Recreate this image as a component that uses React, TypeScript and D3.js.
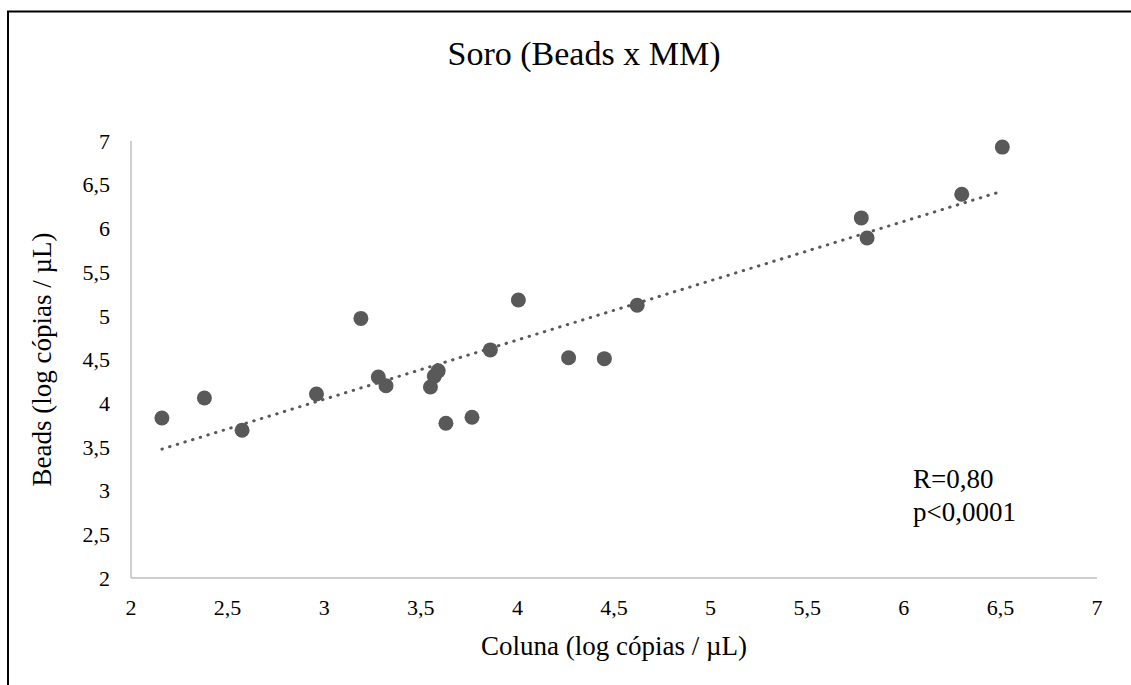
import React from "react";
import * as d3 from "d3";

// Paired measurements: Coluna (x) vs Beads (y), log copies / µL
const colunaLog = [
  2.16, 2.38, 2.575, 2.96, 3.19, 3.28, 3.32, 3.55, 3.57, 3.59, 3.63, 3.765,
  3.86, 4.005, 4.265, 4.45, 4.62, 5.78, 5.81, 6.3, 6.51,
];
const beadsLog = [
  3.83, 4.06, 3.69, 4.105, 4.97, 4.3, 4.2, 4.185, 4.31, 4.37, 3.77, 3.84,
  4.61, 5.18, 4.52, 4.51, 5.12, 6.12, 5.89, 6.39, 6.93,
];
const xTicks = [2, 2.5, 3, 3.5, 4, 4.5, 5, 5.5, 6, 6.5, 7];
const yTicks = [2, 2.5, 3, 3.5, 4, 4.5, 5, 5.5, 6, 6.5, 7];
const statLines = ["R=0,80", "p<0,0001"];

const W = 1131;
const H = 685;
const FONT = "'Liberation Serif', 'Times New Roman', serif";
const MARK = "#595959";
const AXIS = "#bfbfbf";

const fmt = (v: number) => String(v).replace(".", ",");

export default function App() {
  const x = d3.scaleLinear().domain([2, 7]).range([131, 1097]);
  const y = d3.scaleLinear().domain([2, 7]).range([578, 141]);

  // least-squares trend line over the x range of the data
  const mx = d3.mean(colunaLog) as number;
  const my = d3.mean(beadsLog) as number;
  let sxy = 0;
  let sxx = 0;
  colunaLog.forEach((xv, i) => {
    sxy += (xv - mx) * (beadsLog[i] - my);
    sxx += (xv - mx) * (xv - mx);
  });
  const slope = sxy / sxx;
  const icpt = my - slope * mx;
  const [x0, x1] = d3.extent(colunaLog) as [number, number];
  const trend = d3
    .line<number>()
    .x((d) => x(d))
    .y((d) => y(icpt + slope * d))([x0, x1]);

  return (
    <svg
      width={W}
      height={H}
      style={{ position: "absolute", left: 0, top: 0, background: "#fff" }}
      fontFamily={FONT}
    >
      <rect x={0} y={0} width={W} height={H} fill="#fff" />
      <rect
        x={8}
        y={11.5}
        width={W + 20}
        height={H + 20}
        fill="none"
        stroke="#000"
        strokeWidth={2}
      />
      <text x={584} y={65} textAnchor="middle" fontSize={34} fontFamily={FONT} fill="#000">
        Soro (Beads x MM)
      </text>

      {/* axes */}
      <line x1={x(2)} x2={x(2)} y1={y(7)} y2={y(2)} stroke={AXIS} strokeWidth={1.5} />
      <line x1={x(2)} x2={x(7)} y1={y(2)} y2={y(2)} stroke={AXIS} strokeWidth={1.5} />

      {yTicks.map((t) => (
        <text
          key={"y" + t}
          x={110}
          y={y(t)}
          dy="0.35em"
          textAnchor="end"
          fontSize={22}
          fontFamily={FONT}
          fill="#000"
        >
          {fmt(t)}
        </text>
      ))}
      {xTicks.map((t) => (
        <text
          key={"x" + t}
          x={x(t)}
          y={615}
          textAnchor="middle"
          fontSize={22}
          fontFamily={FONT}
          fill="#000"
        >
          {fmt(t)}
        </text>
      ))}

      <text
        transform={`translate(51, ${(y(2) + y(7)) / 2}) rotate(-90)`}
        textAnchor="middle"
        fontSize={27}
        fontFamily={FONT}
        fill="#000"
      >
        Beads (log cópias / µL)
      </text>
      <text
        x={(x(2) + x(7)) / 2}
        y={655}
        textAnchor="middle"
        fontSize={27}
        fontFamily={FONT}
        fill="#000"
      >
        Coluna (log cópias / µL)
      </text>

      {/* trend line */}
      <path
        d={trend || ""}
        fill="none"
        stroke={MARK}
        strokeWidth={3}
        strokeDasharray="0.5 7.5"
        strokeLinecap="round"
      />

      {colunaLog.map((xv, i) => (
        <circle key={i} cx={x(xv)} cy={y(beadsLog[i])} r={7.5} fill={MARK} />
      ))}

      {statLines.map((s, i) => (
        <text key={s} x={913} y={488 + i * 33} fontSize={27} fontFamily={FONT} fill="#000">
          {s}
        </text>
      ))}
    </svg>
  );
}
